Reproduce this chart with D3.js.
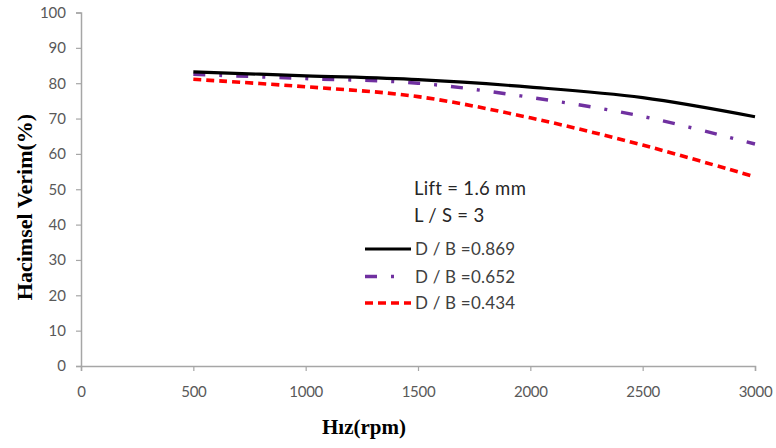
<!DOCTYPE html>
<html>
<head>
<meta charset="utf-8">
<script src="https://cdn.jsdelivr.net/npm/d3@7/dist/d3.min.js"></script>
<style>
  html, body { margin: 0; padding: 0; background: #fff; }
  svg { display: block; }
</style>
</head>
<body>
<svg id="chart" width="776" height="448"></svg>
<script>
// Engine speed (rpm) and volumetric efficiency (%) for three D/B ratios
const speeds = [500, 1000, 1500, 2000, 2500, 3000];
const effDB0869 = [83.2, 82.1, 81.0, 78.9, 75.9, 70.5];
const effDB0652 = [82.5, 81.3, 80.0, 76.0, 70.6, 62.8];
const effDB0434 = [81.1, 79.0, 76.2, 70.2, 62.5, 53.5];

const seriesNames = ["D / B =0.869", "D / B =0.652", "D / B =0.434"];
const xTicks = [0, 500, 1000, 1500, 2000, 2500, 3000];
const yTicks = [0, 10, 20, 30, 40, 50, 60, 70, 80, 90, 100];
const noteLines = ["Lift = 1.6 mm", "L / S = 3"];

const styles = [
  { color: "#000000", width: 3.2, dash: null },
  { color: "#7030a0", width: 3.4, dash: "12,14,3,14" },
  { color: "#ff0000", width: 3.6, dash: "8,5" }
];

const svg = d3.select("#chart");
const margin = { left: 81, right: 21, top: 12.5, bottom: 82 };
const W = 776, H = 448;

const x = d3.scaleLinear().domain([0, 3000]).range([margin.left, W - margin.right]);
const y = d3.scaleLinear().domain([0, 100]).range([H - margin.bottom, margin.top]);

const axisColor = "#a6a6a6";
const labelColor = "#595959";
const sansFont = "Lato, 'Liberation Sans', sans-serif";
const serifFont = "'Liberation Serif', 'DejaVu Serif', serif";

// Y axis
const gy = svg.append("g")
  .attr("transform", `translate(${margin.left},0)`)
  .call(d3.axisLeft(y).tickValues(yTicks).tickSize(5).tickPadding(10).tickFormat(d3.format("d")));
gy.select(".domain").attr("stroke", axisColor).attr("stroke-width", 1.5);
gy.selectAll(".tick line").attr("stroke", axisColor).attr("stroke-width", 1.2);
gy.selectAll(".tick text")
  .attr("fill", labelColor).style("font-family", sansFont).style("font-size", "15px");

// X axis
const gx = svg.append("g")
  .attr("transform", `translate(0,${H - margin.bottom})`)
  .call(d3.axisBottom(x).tickValues(xTicks).tickSize(5).tickPadding(15).tickFormat(d3.format("d")));
gx.select(".domain").attr("stroke", axisColor).attr("stroke-width", 1.5);
gx.selectAll(".tick line").attr("stroke", axisColor).attr("stroke-width", 1.2);
gx.selectAll(".tick text")
  .attr("fill", labelColor).style("font-family", sansFont).style("font-size", "15px")
  .style("letter-spacing", "-0.3px");

// Axis titles
svg.append("text")
  .attr("transform", "translate(32,207) rotate(-90)")
  .attr("text-anchor", "middle")
  .style("font-family", serifFont)
  .style("font-weight", "bold").style("font-size", "22px")
  .attr("fill", "#000")
  .text("Hacimsel Verim(%)");

svg.append("text")
  .attr("x", 364).attr("y", 434)
  .attr("text-anchor", "middle")
  .style("font-family", serifFont)
  .style("font-weight", "bold").style("font-size", "21px")
  .attr("fill", "#000")
  .text("Hız(rpm)");

// Curves
const line = d3.line()
  .x(d => x(d[0]))
  .y(d => y(d[1]))
  .curve(d3.curveCatmullRom.alpha(0.5));

const allSeries = [effDB0869, effDB0652, effDB0434];
// draw bottom to top so the solid line sits above the others
[2, 1, 0].forEach(i => {
  const s = styles[i];
  svg.append("path")
    .datum(speeds.map((v, j) => [v, allSeries[i][j]]))
    .attr("fill", "none")
    .attr("stroke", s.color)
    .attr("stroke-width", s.width)
    .attr("stroke-dasharray", s.dash)
    .attr("d", line);
});

// Notes
noteLines.forEach((t, i) => {
  svg.append("text")
    .attr("x", 414).attr("y", 195 + i * 27)
    .style("font-family", sansFont).style("font-size", "18.5px")
    .style("letter-spacing", "0.3px")
    .attr("fill", "#262626")
    .text(t);
});

// Legend
const legendY = [249, 276.5, 303];
seriesNames.forEach((name, i) => {
  const s = styles[i];
  svg.append("line")
    .attr("x1", 365).attr("x2", 411)
    .attr("y1", legendY[i]).attr("y2", legendY[i])
    .attr("stroke", s.color)
    .attr("stroke-width", s.width)
    .attr("stroke-dasharray", i === 1 ? "12,14,3,20" : s.dash);
  svg.append("text")
    .attr("x", 415).attr("y", legendY[i] + 6)
    .style("font-family", sansFont).style("font-size", "17px")
    .style("letter-spacing", "0.2px")
    .attr("fill", "#404040")
    .text(name);
});
</script>
</body>
</html>
